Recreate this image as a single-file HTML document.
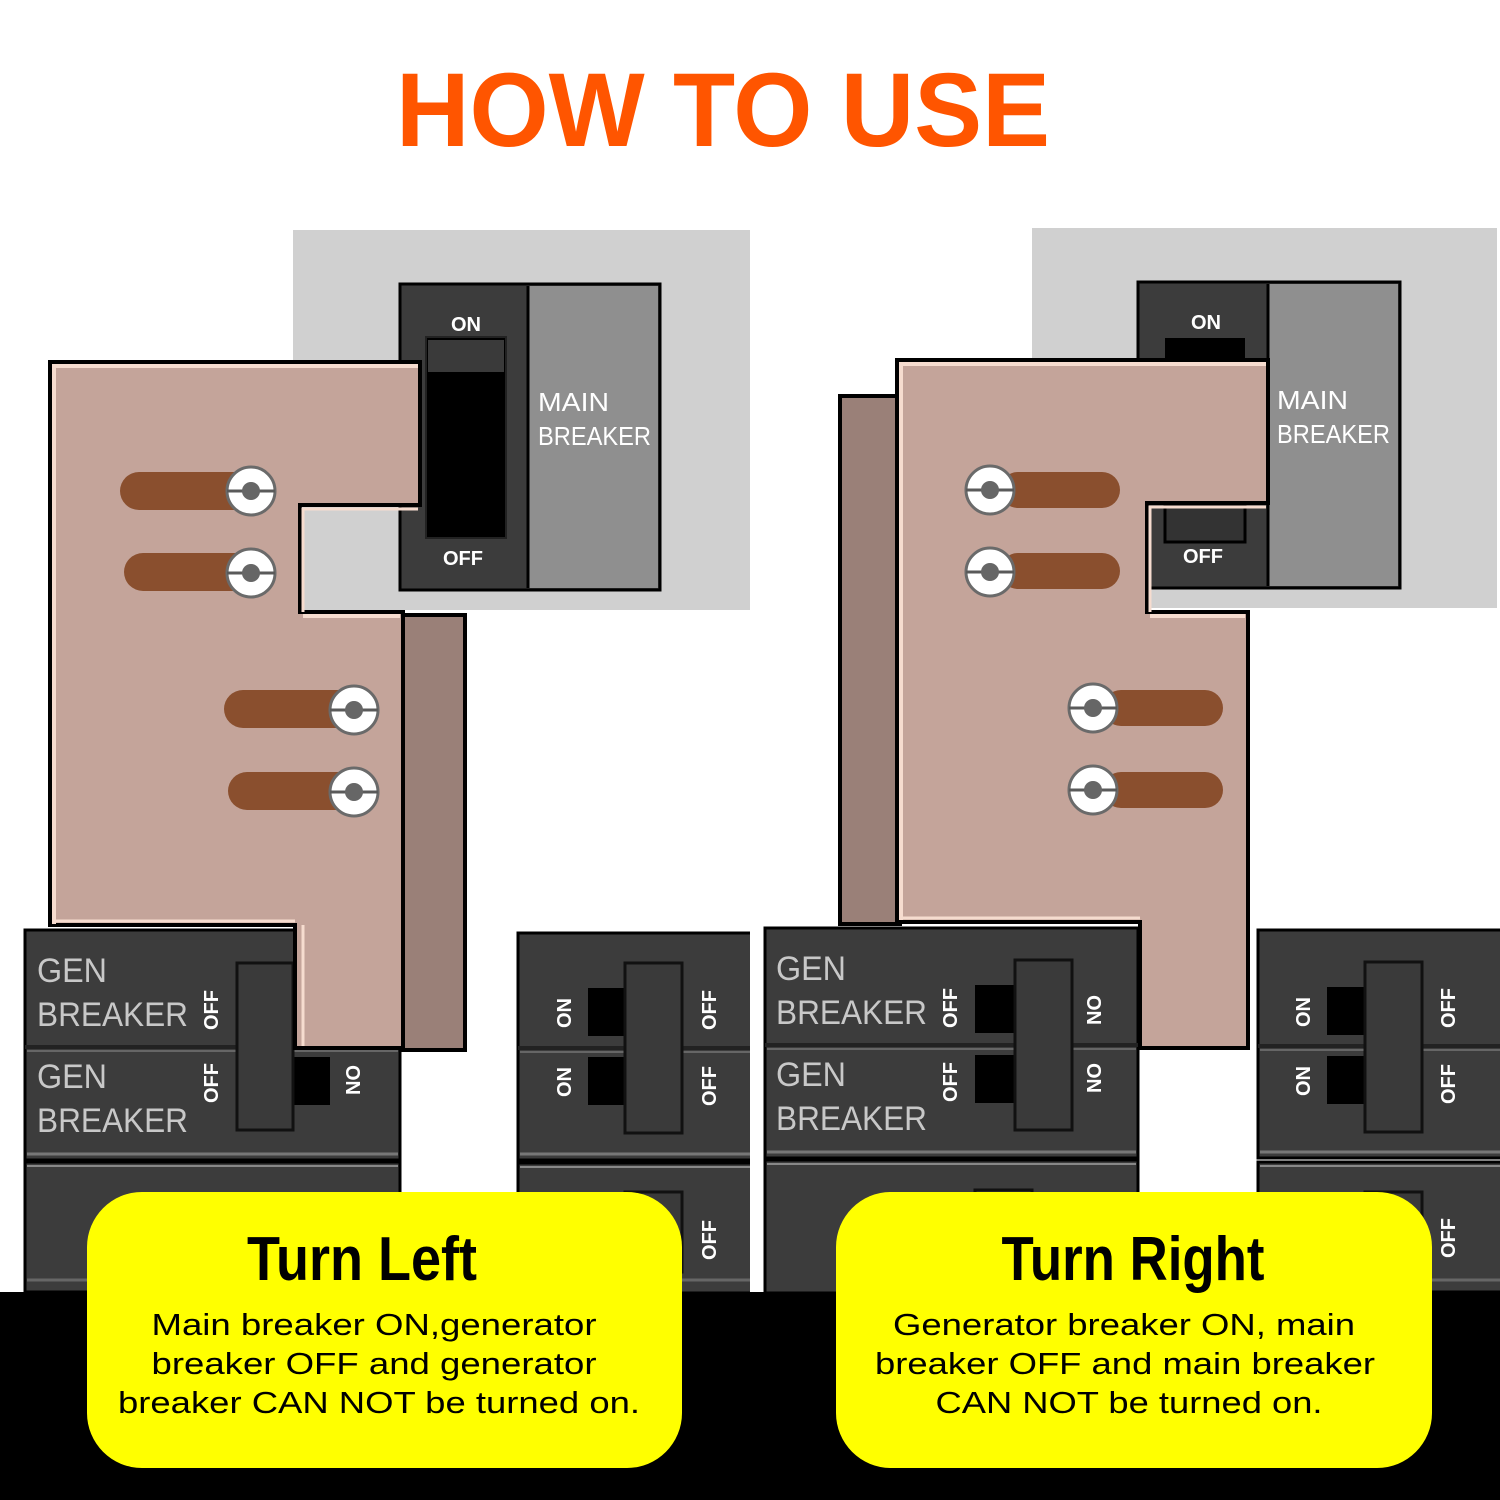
<!DOCTYPE html>
<html><head><meta charset="utf-8"><style>html,body{margin:0;padding:0;background:#fff;width:1500px;height:1500px;overflow:hidden}</style></head>
<body>
<svg width="1500" height="1500" viewBox="0 0 1500 1500" xmlns="http://www.w3.org/2000/svg" font-family="Liberation Sans, sans-serif">
<defs>
<g id="screw">
<circle r="24" fill="#fff" stroke="#6a6a6a" stroke-width="3"/>
<line x1="-24" y1="0" x2="24" y2="0" stroke="#5a5a5a" stroke-width="3"/>
<circle r="9" fill="#666"/>
</g>
</defs>
<rect width="1500" height="1500" fill="#fff"/>
<text x="723" y="146" text-anchor="middle" font-size="105" font-weight="bold" fill="#ff5500" textLength="654" lengthAdjust="spacingAndGlyphs">HOW TO USE</text>

<!-- ============ LEFT PANEL ============ -->
<rect x="293" y="230" width="457" height="380" fill="#d0d0d0"/>
<rect x="400" y="284" width="260" height="306" fill="#3c3c3c" stroke="#000" stroke-width="3"/>
<rect x="529" y="286" width="129" height="302" fill="#8f8f8f"/>
<line x1="528" y1="286" x2="528" y2="588" stroke="#000" stroke-width="3"/>
<text x="466" y="331" text-anchor="middle" font-size="20" font-weight="bold" fill="#fff">ON</text>
<rect x="426" y="337" width="80" height="201" fill="#000" stroke="#222" stroke-width="2"/>
<rect x="428" y="340" width="76" height="32" fill="#3a3a3a"/>
<text x="463" y="565" text-anchor="middle" font-size="20" font-weight="bold" fill="#fff">OFF</text>
<text x="538" y="411" font-size="26" fill="#fff" textLength="71" lengthAdjust="spacingAndGlyphs">MAIN</text>
<text x="538" y="445" font-size="26" fill="#fff" textLength="113" lengthAdjust="spacingAndGlyphs">BREAKER</text>

<rect x="25" y="930" width="375" height="230" fill="#3c3c3c" stroke="#000" stroke-width="3"/>
<line x1="25" y1="1047" x2="400" y2="1047" stroke="#222" stroke-width="4"/>
<line x1="27" y1="1051" x2="398" y2="1051" stroke="#666" stroke-width="2"/>
<line x1="27" y1="1154" x2="398" y2="1154" stroke="#777" stroke-width="3"/>
<text x="37" y="982" font-size="34" fill="#c8c8c8" textLength="70" lengthAdjust="spacingAndGlyphs">GEN</text>
<text x="37" y="1026" font-size="34" fill="#c8c8c8" textLength="151" lengthAdjust="spacingAndGlyphs">BREAKER</text>
<text x="37" y="1088" font-size="34" fill="#c8c8c8" textLength="70" lengthAdjust="spacingAndGlyphs">GEN</text>
<text x="37" y="1132" font-size="34" fill="#c8c8c8" textLength="151" lengthAdjust="spacingAndGlyphs">BREAKER</text>
<text transform="translate(218,1010) rotate(-90)" text-anchor="middle" font-size="20" font-weight="bold" fill="#fff">OFF</text>
<text transform="translate(218,1083) rotate(-90)" text-anchor="middle" font-size="20" font-weight="bold" fill="#fff">OFF</text>
<rect x="293" y="1057" width="37" height="48" fill="#000"/>
<rect x="237" y="963" width="56" height="167" fill="#3a3a3a" stroke="#111" stroke-width="3"/>
<text transform="translate(346,1080) rotate(90)" text-anchor="middle" font-size="20" font-weight="bold" fill="#fff">ON</text>
<rect x="25" y="1162" width="375" height="130" fill="#3c3c3c" stroke="#000" stroke-width="3"/>
<line x1="27" y1="1166" x2="398" y2="1166" stroke="#888" stroke-width="2"/>
<line x1="27" y1="1280" x2="398" y2="1280" stroke="#666" stroke-width="3"/>

<rect x="518" y="933" width="240" height="227" fill="#3c3c3c" stroke="#000" stroke-width="3"/>
<line x1="518" y1="1048" x2="750" y2="1048" stroke="#222" stroke-width="4"/>
<line x1="520" y1="1052" x2="750" y2="1052" stroke="#666" stroke-width="2"/>
<line x1="520" y1="1154" x2="750" y2="1154" stroke="#777" stroke-width="3"/>
<rect x="588" y="988" width="40" height="48" fill="#000"/>
<rect x="588" y="1057" width="40" height="48" fill="#000"/>
<rect x="625" y="963" width="57" height="170" fill="#3a3a3a" stroke="#111" stroke-width="3"/>
<text transform="translate(571,1013) rotate(-90)" text-anchor="middle" font-size="20" font-weight="bold" fill="#fff">ON</text>
<text transform="translate(571,1082) rotate(-90)" text-anchor="middle" font-size="20" font-weight="bold" fill="#fff">ON</text>
<text transform="translate(716,1010) rotate(-90)" text-anchor="middle" font-size="20" font-weight="bold" fill="#fff">OFF</text>
<text transform="translate(716,1086) rotate(-90)" text-anchor="middle" font-size="20" font-weight="bold" fill="#fff">OFF</text>
<rect x="518" y="1163" width="240" height="130" fill="#3c3c3c" stroke="#000" stroke-width="3"/>
<line x1="520" y1="1167" x2="750" y2="1167" stroke="#888" stroke-width="2"/>
<line x1="520" y1="1280" x2="750" y2="1280" stroke="#666" stroke-width="3"/>
<rect x="625" y="1192" width="57" height="80" fill="#3a3a3a" stroke="#111" stroke-width="3"/>
<text transform="translate(716,1240) rotate(-90)" text-anchor="middle" font-size="20" font-weight="bold" fill="#fff">OFF</text>
<rect x="750" y="900" width="14" height="400" fill="#fff"/>

<rect x="403" y="615" width="62" height="435" fill="#9a8078" stroke="#000" stroke-width="4"/>
<polygon points="50,362 420,362 420,505 300,505 300,612 403,612 403,1048 295,1048 295,925 50,925" fill="#c4a49a" stroke="#000" stroke-width="4"/>
<polyline points="54,924 54,366 418,366" fill="none" stroke="#f6dccf" stroke-width="4"/>
<polyline points="303,1046 303,925" fill="none" stroke="#f6dccf" stroke-width="3"/>
<polyline points="303,612 303,509 418,509" fill="none" stroke="#f6dccf" stroke-width="3"/>
<line x1="303" y1="616" x2="400" y2="616" stroke="#f6dccf" stroke-width="4"/>
<line x1="54" y1="921" x2="295" y2="921" stroke="#f6dccf" stroke-width="3"/>
<rect x="120" y="472" width="140" height="38" rx="19" fill="#8a4f2e"/>
<rect x="124" y="553" width="136" height="38" rx="19" fill="#8a4f2e"/>
<rect x="224" y="690" width="140" height="38" rx="19" fill="#8a4f2e"/>
<rect x="228" y="772" width="136" height="38" rx="19" fill="#8a4f2e"/>
<use href="#screw" x="251" y="491"/>
<use href="#screw" x="251" y="573"/>
<use href="#screw" x="354" y="710"/>
<use href="#screw" x="354" y="792"/>

<!-- ============ RIGHT PANEL ============ -->
<rect x="1032" y="228" width="465" height="380" fill="#d0d0d0"/>
<rect x="1138" y="282" width="262" height="306" fill="#3c3c3c" stroke="#000" stroke-width="3"/>
<rect x="1269" y="284" width="129" height="302" fill="#8f8f8f"/>
<line x1="1268" y1="284" x2="1268" y2="586" stroke="#000" stroke-width="3"/>
<text x="1206" y="329" text-anchor="middle" font-size="20" font-weight="bold" fill="#fff">ON</text>
<rect x="1165" y="338" width="80" height="30" fill="#000"/>
<rect x="1165" y="505" width="80" height="37" fill="#333" stroke="#000" stroke-width="3"/>
<text x="1203" y="563" text-anchor="middle" font-size="20" font-weight="bold" fill="#fff">OFF</text>
<text x="1277" y="409" font-size="26" fill="#fff" textLength="71" lengthAdjust="spacingAndGlyphs">MAIN</text>
<text x="1277" y="443" font-size="26" fill="#fff" textLength="113" lengthAdjust="spacingAndGlyphs">BREAKER</text>

<rect x="765" y="928" width="373" height="230" fill="#3c3c3c" stroke="#000" stroke-width="3"/>
<line x1="765" y1="1045" x2="1138" y2="1045" stroke="#222" stroke-width="4"/>
<line x1="767" y1="1049" x2="1136" y2="1049" stroke="#666" stroke-width="2"/>
<line x1="767" y1="1152" x2="1136" y2="1152" stroke="#777" stroke-width="3"/>
<text x="776" y="980" font-size="34" fill="#c8c8c8" textLength="70" lengthAdjust="spacingAndGlyphs">GEN</text>
<text x="776" y="1024" font-size="34" fill="#c8c8c8" textLength="151" lengthAdjust="spacingAndGlyphs">BREAKER</text>
<text x="776" y="1086" font-size="34" fill="#c8c8c8" textLength="70" lengthAdjust="spacingAndGlyphs">GEN</text>
<text x="776" y="1130" font-size="34" fill="#c8c8c8" textLength="151" lengthAdjust="spacingAndGlyphs">BREAKER</text>
<text transform="translate(957,1008) rotate(-90)" text-anchor="middle" font-size="20" font-weight="bold" fill="#fff">OFF</text>
<text transform="translate(957,1082) rotate(-90)" text-anchor="middle" font-size="20" font-weight="bold" fill="#fff">OFF</text>
<rect x="975" y="985" width="40" height="48" fill="#000"/>
<rect x="975" y="1055" width="40" height="48" fill="#000"/>
<rect x="1015" y="960" width="57" height="170" fill="#3a3a3a" stroke="#111" stroke-width="3"/>
<text transform="translate(1087,1010) rotate(90)" text-anchor="middle" font-size="20" font-weight="bold" fill="#fff">ON</text>
<text transform="translate(1087,1078) rotate(90)" text-anchor="middle" font-size="20" font-weight="bold" fill="#fff">ON</text>
<rect x="765" y="1160" width="373" height="133" fill="#3c3c3c" stroke="#000" stroke-width="3"/>
<line x1="767" y1="1164" x2="1136" y2="1164" stroke="#888" stroke-width="2"/>
<rect x="975" y="1190" width="57" height="80" fill="#3a3a3a" stroke="#111" stroke-width="3"/>

<rect x="1258" y="930" width="250" height="228" fill="#3c3c3c" stroke="#000" stroke-width="3"/>
<line x1="1258" y1="1046" x2="1500" y2="1046" stroke="#222" stroke-width="4"/>
<line x1="1260" y1="1050" x2="1500" y2="1050" stroke="#666" stroke-width="2"/>
<line x1="1260" y1="1152" x2="1500" y2="1152" stroke="#777" stroke-width="3"/>
<rect x="1327" y="987" width="40" height="48" fill="#000"/>
<rect x="1327" y="1056" width="40" height="48" fill="#000"/>
<rect x="1365" y="962" width="57" height="170" fill="#3a3a3a" stroke="#111" stroke-width="3"/>
<text transform="translate(1310,1012) rotate(-90)" text-anchor="middle" font-size="20" font-weight="bold" fill="#fff">ON</text>
<text transform="translate(1310,1081) rotate(-90)" text-anchor="middle" font-size="20" font-weight="bold" fill="#fff">ON</text>
<text transform="translate(1455,1008) rotate(-90)" text-anchor="middle" font-size="20" font-weight="bold" fill="#fff">OFF</text>
<text transform="translate(1455,1084) rotate(-90)" text-anchor="middle" font-size="20" font-weight="bold" fill="#fff">OFF</text>
<rect x="1258" y="1162" width="250" height="130" fill="#3c3c3c" stroke="#000" stroke-width="3"/>
<line x1="1260" y1="1166" x2="1500" y2="1166" stroke="#888" stroke-width="2"/>
<line x1="1260" y1="1280" x2="1500" y2="1280" stroke="#666" stroke-width="3"/>
<rect x="1365" y="1192" width="57" height="80" fill="#3a3a3a" stroke="#111" stroke-width="3"/>
<text transform="translate(1455,1238) rotate(-90)" text-anchor="middle" font-size="20" font-weight="bold" fill="#fff">OFF</text>

<rect x="840" y="396" width="60" height="528" fill="#9a8078" stroke="#000" stroke-width="4"/>
<polygon points="897,360 1268,360 1268,503 1147,503 1147,612 1248,612 1248,1048 1140,1048 1140,922 897,922" fill="#c4a49a" stroke="#000" stroke-width="4"/>
<polyline points="901,920 901,364 1266,364" fill="none" stroke="#f6dccf" stroke-width="4"/>
<polyline points="1150,612 1150,507 1266,507" fill="none" stroke="#f6dccf" stroke-width="3"/>
<line x1="1150" y1="616" x2="1245" y2="616" stroke="#f6dccf" stroke-width="4"/>
<line x1="901" y1="918" x2="1140" y2="918" stroke="#f6dccf" stroke-width="3"/>
<rect x="1000" y="472" width="120" height="36" rx="18" fill="#8a4f2e"/>
<rect x="1000" y="553" width="120" height="36" rx="18" fill="#8a4f2e"/>
<rect x="1103" y="690" width="120" height="36" rx="18" fill="#8a4f2e"/>
<rect x="1103" y="772" width="120" height="36" rx="18" fill="#8a4f2e"/>
<use href="#screw" x="990" y="490"/>
<use href="#screw" x="990" y="572"/>
<use href="#screw" x="1093" y="708"/>
<use href="#screw" x="1093" y="790"/>

<rect x="0" y="1292" width="1500" height="208" fill="#000"/>

<rect x="87" y="1192" width="595" height="276" rx="55" fill="#ffff00"/>
<text x="362" y="1280" text-anchor="middle" font-size="62" font-weight="bold" fill="#000" textLength="230" lengthAdjust="spacingAndGlyphs">Turn Left</text>
<text x="374" y="1335" text-anchor="middle" font-size="31" fill="#000" textLength="445" lengthAdjust="spacingAndGlyphs">Main breaker ON,generator</text>
<text x="374" y="1374" text-anchor="middle" font-size="31" fill="#000" textLength="445" lengthAdjust="spacingAndGlyphs">breaker OFF and generator</text>
<text x="379" y="1413" text-anchor="middle" font-size="31" fill="#000" textLength="522" lengthAdjust="spacingAndGlyphs">breaker CAN NOT be turned on.</text>

<rect x="836" y="1192" width="596" height="276" rx="55" fill="#ffff00"/>
<text x="1133" y="1280" text-anchor="middle" font-size="62" font-weight="bold" fill="#000" textLength="263" lengthAdjust="spacingAndGlyphs">Turn Right</text>
<text x="1124" y="1335" text-anchor="middle" font-size="31" fill="#000" textLength="462" lengthAdjust="spacingAndGlyphs">Generator breaker ON, main</text>
<text x="1125" y="1374" text-anchor="middle" font-size="31" fill="#000" textLength="500" lengthAdjust="spacingAndGlyphs">breaker OFF and main breaker</text>
<text x="1129" y="1413" text-anchor="middle" font-size="31" fill="#000" textLength="387" lengthAdjust="spacingAndGlyphs">CAN NOT be turned on.</text>
</svg>
</body></html>
